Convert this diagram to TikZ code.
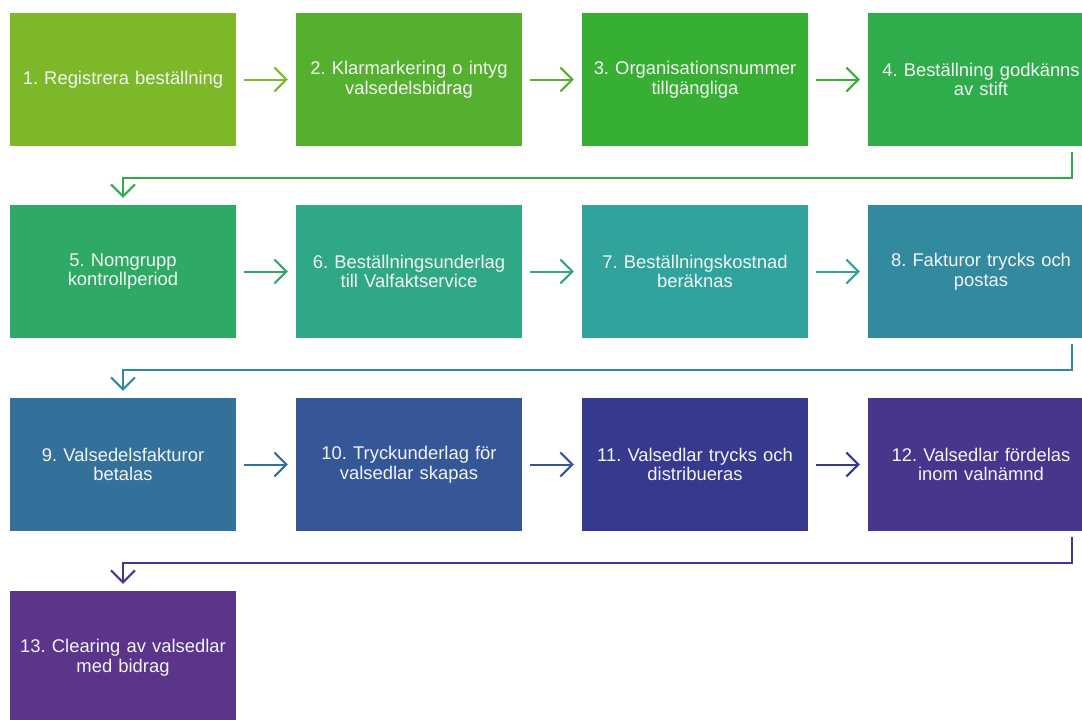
\documentclass[tikz,border=0pt]{standalone}
\usepackage{fontspec}
\setmainfont{Liberation Sans}
\usetikzlibrary{arrows.meta}
\definecolor{c1}{HTML}{7CB82A}
\definecolor{c2}{HTML}{56B030}
\definecolor{c3}{HTML}{36AF32}
\definecolor{c4}{HTML}{2FAC4B}
\definecolor{c5}{HTML}{2EAA66}
\definecolor{c6}{HTML}{2FA887}
\definecolor{c7}{HTML}{30A39C}
\definecolor{c8}{HTML}{338A9F}
\definecolor{c9}{HTML}{33719B}
\definecolor{c10}{HTML}{355697}
\definecolor{c11}{HTML}{363A8E}
\definecolor{c12}{HTML}{47368C}
\definecolor{c13}{HTML}{5B358A}
\definecolor{txt}{HTML}{F4F4F4}
\tikzset{
  box/.style={fill=#1, draw=none, minimum width=226pt, minimum height=133pt,
    inner sep=0pt, text=txt, align=center, text width=226pt,
    font=\frenchspacing\fontsize{18.4pt}{19.5pt}\selectfont},
  conn/.style={draw=#1, line width=2pt,
    -{Straight Barb[length=12pt,width=24pt,line width=2pt]}}
}
\begin{document}
\begin{tikzpicture}[x=1pt,y=-1pt]
\useasboundingbox (0,0) rectangle (1082,720);
\begin{scope}
\clip (0,0) rectangle (1082,720);
\node[box=c1]  (b1)  at (123,79.5)  {1. Registrera beställning};
\node[box=c2]  (b2)  at (409,79.5)  {2. Klarmarkering o intyg\\valsedelsbidrag};
\node[box=c3]  (b3)  at (695,79.5)  {3. Organisationsnummer\\tillgängliga};
\node[box=c4]  (b4)  at (981,79.5)  {4. Beställning godkänns\\av stift};
\node[box=c5]  (b5)  at (123,271.5) {5. Nomgrupp\\kontrollperiod};
\node[box=c6]  (b6)  at (409,271.5) {6. Beställningsunderlag\\till Valfaktservice};
\node[box=c7]  (b7)  at (695,271.5) {7. Beställningskostnad\\beräknas};
\node[box=c8]  (b8)  at (981,271.5) {8. Fakturor trycks och\\postas};
\node[box=c9]  (b9)  at (123,464.5) {9. Valsedelsfakturor\\betalas};
\node[box=c10] (b10) at (409,464.5) {10. Tryckunderlag för\\valsedlar skapas};
\node[box=c11] (b11) at (695,464.5) {11. Valsedlar trycks och\\distribueras};
\node[box=c12] (b12) at (981,464.5) {12. Valsedlar fördelas\\inom valnämnd};
\node[box=c13] (b13) at (123,657.5) {13. Clearing av valsedlar\\med bidrag};
\end{scope}
% horizontal connectors
\draw[conn=c1]  ([xshift=8pt]b1.east)  -- ([xshift=-8pt]b2.west);
\draw[conn=c2]  ([xshift=8pt]b2.east)  -- ([xshift=-8pt]b3.west);
\draw[conn=c3]  ([xshift=8pt]b3.east)  -- ([xshift=-8pt]b4.west);
\draw[conn=c5]  ([xshift=8pt]b5.east)  -- ([xshift=-8pt]b6.west);
\draw[conn=c6]  ([xshift=8pt]b6.east)  -- ([xshift=-8pt]b7.west);
\draw[conn=c7]  ([xshift=8pt]b7.east)  -- ([xshift=-8pt]b8.west);
\draw[conn=c9]  ([xshift=8pt]b9.east)  -- ([xshift=-8pt]b10.west);
\draw[conn=c10] ([xshift=8pt]b10.east) -- ([xshift=-8pt]b11.west);
\draw[conn=c11] ([xshift=8pt]b11.east) -- ([xshift=-8pt]b12.west);
% row-change connectors
\draw[conn=c4]  ([xshift=91pt,yshift=-6pt]b4.south)  -- ++(0,26) -| ([yshift=7pt]b5.north);
\draw[conn=c8]  ([xshift=91pt,yshift=-6pt]b8.south)  -- ++(0,26) -| ([yshift=7pt]b9.north);
\draw[conn=c12] ([xshift=91pt,yshift=-6pt]b12.south) -- ++(0,26) -| ([yshift=7pt]b13.north);
\end{tikzpicture}
\end{document}
